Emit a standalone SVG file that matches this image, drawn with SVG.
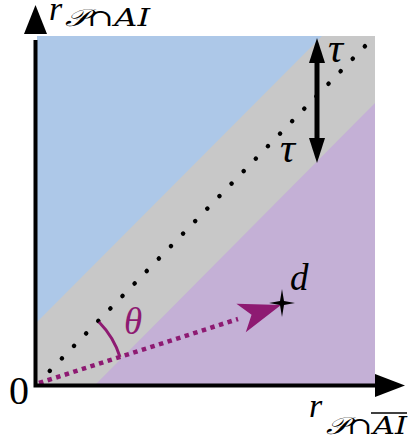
<svg xmlns="http://www.w3.org/2000/svg" width="408" height="441" viewBox="0 0 408 441">
<style>
.ax{stroke:#000;stroke-width:4;fill:none}
.it{font-family:"Liberation Serif","DejaVu Serif",serif;font-style:italic}
.sc{font-family:"DejaVu Serif","Liberation Serif",serif;font-style:italic}
</style>
<rect width="408" height="441" fill="#fff"/>
<g id="regions">
<rect x="37" y="36" width="338" height="349" fill="#c8c8c8"/>
<polygon points="37,36 322,36 37,322" fill="#adc8e8"/>
<polygon points="95,385 375,103 375,385" fill="#c4b0d6"/>
</g>
<g id="connectors">
<line x1="40" y1="381" x2="370" y2="41" stroke="#000" stroke-width="4.5" stroke-dasharray="0.1 17.3" stroke-linecap="round" stroke-dashoffset="-14"/>
<line x1="39" y1="383" x2="238" y2="319" stroke="#8e1a72" stroke-width="4.5" stroke-dasharray="4.5 4.5"/>
<path d="M0,0 L-42,-15 L-31,0 L-42,15 Z" fill="#8e1a72" transform="translate(281,305) rotate(-18.2)"/>
<path d="M99,322 A88,88 0 0 1 120,357" fill="none" stroke="#8e1a72" stroke-width="3"/>
<line x1="317" y1="58" x2="317" y2="142" stroke="#000" stroke-width="5"/>
<polygon points="317,38 325,63 309,63" fill="#000"/>
<polygon points="317,163 325,138 309,138" fill="#000"/>
</g>
<g id="axes">
<polyline points="35.5,40 35.5,385.5 380,385.5" class="ax"/>
<polygon points="35.5,5 47,34 24,34" fill="#000"/>
<polygon points="405,385.5 375,374 375,397" fill="#000"/>
</g>
<g id="point-d">
<path d="M282,289 L284,301 L295,303 L284,305 L282,317 L280,305 L269,303 L280,301 Z" fill="#000"/>
<text x="290" y="290" class="it" font-size="37">d</text>
</g>
<g id="labels">
<text x="124" y="334" class="it" font-size="37" fill="#8e1a72">θ</text>
<text x="328" y="62" class="it" font-size="42">τ</text>
<text x="280" y="162" class="it" font-size="42">τ</text>
<text x="9" y="404" font-family="Liberation Serif, serif" font-size="40">0</text>
<text x="49" y="20" class="it" font-size="34">r</text>
<text x="65" y="26" class="sc" font-size="24" textLength="85" lengthAdjust="spacingAndGlyphs">𝒫∩AI</text>
<text x="309" y="417" class="it" font-size="34">r</text>
<text x="326" y="434" class="sc" font-size="24" textLength="81" lengthAdjust="spacingAndGlyphs">𝒫∩AI</text>
<line x1="371" y1="413" x2="407" y2="413" stroke="#000" stroke-width="1.5"/>
</g>
</svg>
